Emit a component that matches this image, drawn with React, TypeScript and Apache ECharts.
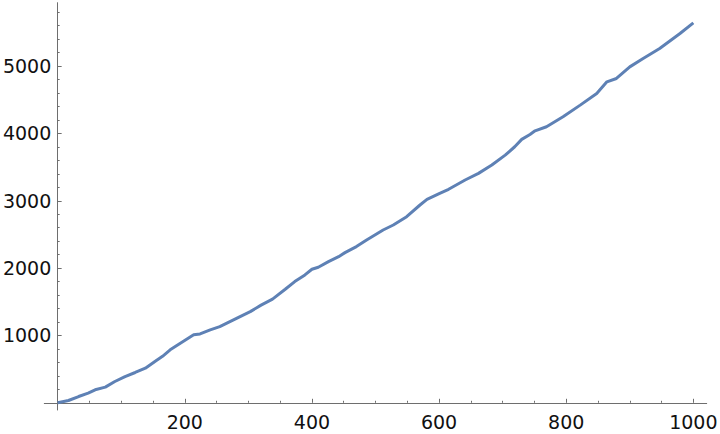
import React, { useEffect, useRef } from "react";
import * as echarts from "echarts";

const xValues = [0, 17, 33, 48, 59, 75, 90, 106, 122, 138, 153, 165, 177, 193, 214, 224, 240, 255, 271, 287, 303, 320, 338, 358, 373, 389, 400, 410, 426, 442, 452, 470, 486, 512, 528, 549, 570, 581, 601, 615, 641, 662, 683, 704, 719, 730, 743, 751, 769, 795, 822, 848, 864, 879, 900, 921, 947, 979, 1000];
const yValues = [0, 34, 93, 143, 193, 233, 316, 390, 450, 514, 613, 690, 786, 885, 1009, 1023, 1083, 1132, 1206, 1280, 1354, 1450, 1540, 1686, 1800, 1899, 1983, 2013, 2096, 2170, 2230, 2320, 2418, 2566, 2640, 2764, 2937, 3021, 3110, 3170, 3308, 3407, 3530, 3678, 3802, 3911, 3985, 4039, 4099, 4247, 4420, 4593, 4766, 4816, 4988, 5112, 5261, 5483, 5641];

const xTickLabels = [200, 400, 600, 800, 1000];
const yTickLabels = [1000, 2000, 3000, 4000, 5000];
const xMajorTicks = [0, 200, 400, 600, 800, 1000];
const yMajorTicks = [0, 1000, 2000, 3000, 4000, 5000];

export default function App() {
  const ref = useRef<HTMLDivElement>(null);
  useEffect(() => {
    if (!ref.current) return;
    const chart = echarts.init(ref.current, null, { renderer: "svg" });
    const axisColor = "#6e6e6e";
    const labelStyle = {
      fontFamily: "DejaVu Sans",
      fontSize: 19,
      color: "#111111",
      formatter: (v: number) => String(v),
    };
    chart.setOption({
      animation: false,
      backgroundColor: "#ffffff",
      grid: {
        left: 44.3,
        right: 13.3,
        top: 2.7,
        bottom: 24,
        containLabel: false,
        outerBoundsMode: "none",
      },
      xAxis: {
        type: "value",
        min: -21,
        max: 1021,
        splitNumber: 5,
        axisLine: { show: true, onZero: true, lineStyle: { color: axisColor, width: 1 } },
        axisTick: {
          show: true,
          inside: true,
          length: 4,
          customValues: xMajorTicks,
          lineStyle: { color: axisColor },
        },
        minorTick: { show: true, splitNumber: 4, length: 2, lineStyle: { color: axisColor } },
        axisLabel: {
          ...labelStyle,
          margin: 2,
          customValues: xTickLabels,
        },
        splitLine: { show: false },
      },
      yAxis: {
        type: "value",
        min: -107,
        max: 5941,
        splitNumber: 5,
        axisLine: { show: true, onZero: true, lineStyle: { color: axisColor, width: 1 } },
        axisTick: {
          show: true,
          inside: true,
          length: 4,
          customValues: yMajorTicks,
          lineStyle: { color: axisColor },
        },
        minorTick: { show: true, splitNumber: 5, length: 2, lineStyle: { color: axisColor } },
        axisLabel: {
          ...labelStyle,
          margin: -7,
          customValues: yTickLabels,
        },
        splitLine: { show: false },
      },
      series: [
        {
          type: "line",
          data: xValues.map((x, i) => [x, yValues[i]]),
          showSymbol: false,
          symbol: "none",
          lineStyle: { color: "#5E81B5", width: 3 },
          itemStyle: { color: "#5E81B5" },
        },
      ],
    });
    return () => chart.dispose();
  }, []);
  return (
    <div
      ref={ref}
      style={{ position: "absolute", left: 0, top: 0, width: 720, height: 434 }}
    />
  );
}
